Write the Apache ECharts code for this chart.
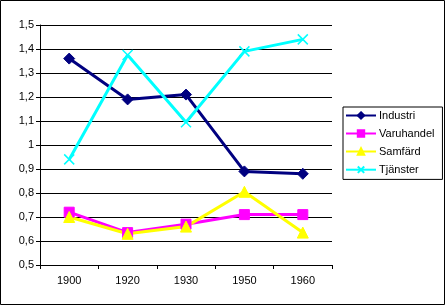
<!DOCTYPE html>
<html><head><meta charset="utf-8">
<script src="https://cdn.jsdelivr.net/npm/echarts@6/dist/echarts.min.js"></script>
<style>html,body{margin:0;padding:0;background:#fff}#c{width:446px;height:306px}</style>
</head><body><div id="c"></div>
<script>
const categories = ['1900','1920','1930','1950','1960'];
const industri   = [1.36, 1.19, 1.21, 0.89, 0.88];
const varuhandel = [0.72, 0.635, 0.67, 0.71, 0.71];
const samfard    = [0.70, 0.63, 0.66, 0.805, 0.635];
const tjanster   = [0.94, 1.375, 1.095, 1.39, 1.44];
const names = ['Industri','Varuhandel','Samfärd','Tjänster'];

const font = 'Liberation Sans, Arial, sans-serif';
const chart = echarts.init(document.getElementById('c'), null, {renderer:'canvas'});
function ser(name, data, color, symbol, size, extra){
  return Object.assign({
    name, type:'line', data, symbol, symbolSize:size,
    lineStyle:{color, width:3}, itemStyle:{color, borderColor:color, borderWidth:1},
    emphasis:{disabled:true}, animation:false
  }, extra||{});
}
chart.setOption({
  animation:false,
  grid:{left:40, right:114, top:25, bottom:41, containLabel:false},
  graphic:[{type:'rect', shape:{x:0.5,y:0.5,width:444,height:304}, style:{fill:null, stroke:'#000', lineWidth:1}, silent:true}],
  xAxis:{type:'category', data:categories, boundaryGap:true,
    axisLine:{lineStyle:{color:'#000', width:1}},
    axisTick:{show:true, length:4, lineStyle:{color:'#000'}},
    axisLabel:{color:'#000', fontFamily:font, fontSize:11, margin:10},
    splitLine:{show:false}},
  yAxis:{type:'value', min:0.5, max:1.5, interval:0.1,
    axisLine:{show:true, lineStyle:{color:'#000', width:1}},
    axisTick:{show:true, length:4, lineStyle:{color:'#000'}},
    axisLabel:{color:'#000', fontFamily:font, fontSize:11, margin:6,
      formatter:v=>String(+v.toFixed(1)).replace('.',',')},
    splitLine:{show:true, lineStyle:{color:'#000', width:1}}},
  legend:{orient:'vertical', left:343, top:107, width:94,
    backgroundColor:'#fff', borderColor:'#000', borderWidth:1,
    padding:[3,8,4,2], itemGap:7, itemWidth:30, itemHeight:8,
    textStyle:{color:'#000', fontFamily:font, fontSize:11, padding:[0,0,0,-2]},
    data:names, selectedMode:false},
  series:[
    ser('Industri', industri, '#000080', 'diamond', 11),
    ser('Varuhandel', varuhandel, '#FF00FF', 'rect', 10),
    ser('Samfärd', samfard, '#FFFF00', 'triangle', 11),
    ser('Tjänster', tjanster, '#00FFFF', 'path://M0,0L10,10M10,0L0,10', 10,
      {itemStyle:{color:'none', borderColor:'#00FFFF', borderWidth:1.5}})
  ]
});
</script></body></html>
